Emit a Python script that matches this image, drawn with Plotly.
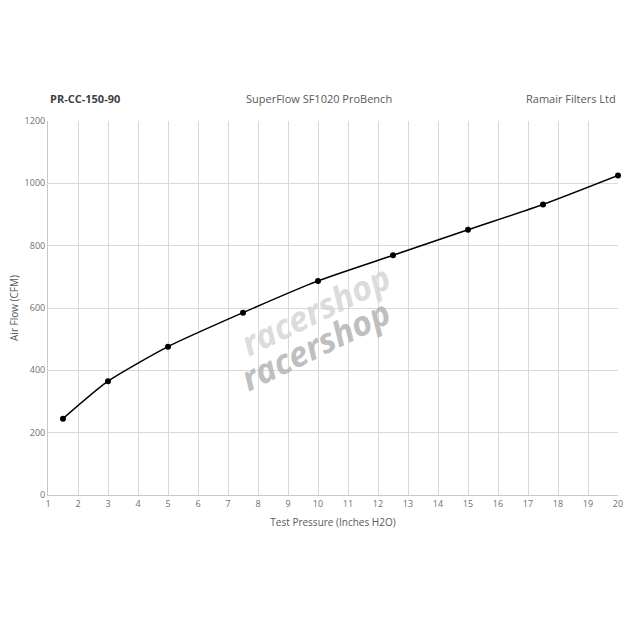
import plotly.graph_objects as go

pressure = [1.5, 3, 5, 7.5, 10, 12.5, 15, 17.5, 20]
airflow = [245, 365, 476, 585, 687, 769, 851, 932, 1025]
x_ticks = list(range(1, 21))
y_ticks = [0, 200, 400, 600, 800, 1000, 1200]

font = "Open Sans, Liberation Sans, sans-serif"
fig = go.Figure()
fig.add_trace(go.Scatter(
    x=pressure, y=airflow, mode="lines+markers",
    line=dict(color="black", width=1.5, shape="spline", smoothing=0.6),
    marker=dict(color="black", size=6),
    showlegend=False, cliponaxis=False,
))

fig.update_layout(
    width=625, height=625,
    margin=dict(l=48, r=7, t=121, b=130),
    paper_bgcolor="white", plot_bgcolor="white",
    font=dict(family=font, color="#6f6f6f", size=9),
    xaxis=dict(range=[1, 20], tickvals=x_ticks, showgrid=True, gridcolor="#d9d9d9",
               gridwidth=1, zeroline=False, showline=True, linecolor="#c8c8c8",
               ticks="", tickfont=dict(size=9, color="#6f6f6f"), automargin=False,
               title=dict(text="Test Pressure (Inches H2O)", font=dict(size=10, color="#595959"), standoff=10)),
    yaxis=dict(range=[0, 1200], tickvals=y_ticks, showgrid=True, gridcolor="#d9d9d9",
               gridwidth=1, zeroline=False, showline=True, linecolor="#c8c8c8",
               ticks="", tickfont=dict(size=9, color="#6f6f6f"), automargin=False,
               title=dict(text="Air Flow (CFM)", font=dict(size=10, color="#595959"), standoff=4)),
)

fig.add_annotation(text="<b>PR-CC-150-90</b>", xref="paper", yref="paper", x=0, y=1.059,
                   xanchor="left", yanchor="middle", showarrow=False,
                   font=dict(size=11, color="#404040", family=font))
fig.add_annotation(text="SuperFlow SF1020 ProBench", xref="paper", yref="paper", x=0.475, y=1.059,
                   xanchor="center", yanchor="middle", showarrow=False,
                   font=dict(size=11, color="#595959", family=font))
fig.add_annotation(text="Ramair Filters Ltd", xref="paper", yref="paper", x=1.0, y=1.059,
                   xanchor="right", yanchor="middle", showarrow=False,
                   font=dict(size=11, color="#595959", family=font))
for yy, col in [(593, "#d6d6d6"), (481, "#b4b4b4")]:
    fig.add_annotation(text="<i><b>racershop</b></i>", x=9.9, y=yy, showarrow=False,
                       textangle=-26, font=dict(size=34, color=col, family=font), opacity=0.85)

fig.write_html("out.html", config={"displayModeBar": False},
               post_script="document.body.style.margin='0';document.body.style.overflow='hidden';")
